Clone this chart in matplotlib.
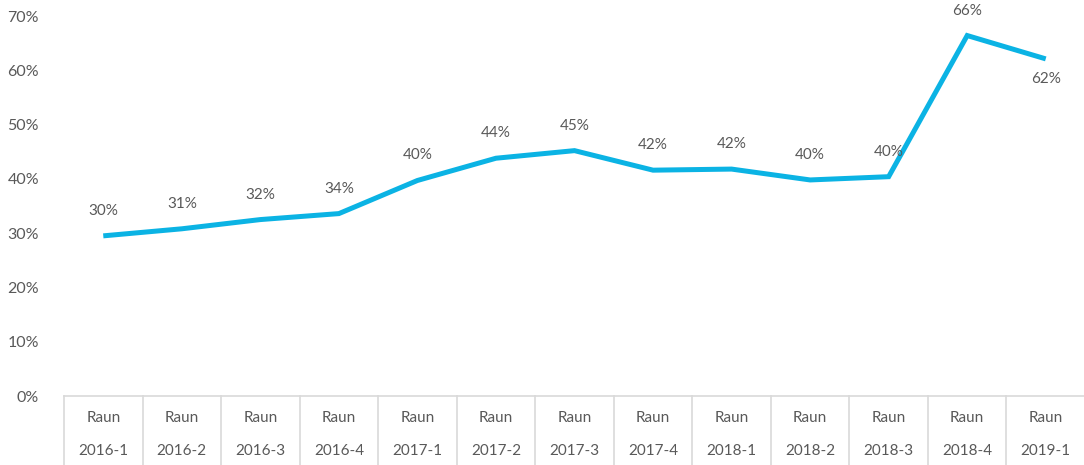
import matplotlib.pyplot as plt
import matplotlib.transforms as mtransforms
from matplotlib.ticker import FuncFormatter

# values (share, in percent)
periods = ["2016-1", "2016-2", "2016-3", "2016-4", "2017-1", "2017-2", "2017-3",
           "2017-4", "2018-1", "2018-2", "2018-3", "2018-4", "2019-1"]
prefix = "Raun"
share = [29.5, 30.8, 32.5, 33.6, 39.7, 43.8, 45.2, 41.6, 41.8, 39.8, 40.4, 66.4, 62.1]
share_labels = ["30%", "31%", "32%", "34%", "40%", "44%", "45%", "42%", "42%",
                "40%", "40%", "66%", "62%"]
y_ticks = [0, 10, 20, 30, 40, 50, 60, 70]

LINE_COLOR = "#0BB3E4"
TEXT_COLOR = "#595959"
GRID_COLOR = "#D9D9D9"

plt.rcParams["font.family"] = ["Lato", "DejaVu Sans"]

fig = plt.figure(figsize=(10.84, 4.65), dpi=100)
ax = fig.add_axes([64 / 1084, 69 / 465, 1021 / 1084, 380 / 465])

x = list(range(len(periods)))
ax.plot(x, share, color=LINE_COLOR, linewidth=3.6, solid_joinstyle="miter",
        solid_capstyle="butt", zorder=3)

# data labels: above the point, except the last one which sits below
for i, (val, lab) in enumerate(zip(share, share_labels)):
    below = i == len(share) - 1
    ax.annotate(lab, (i, val), xytext=(0, -20 if below else 25),
                textcoords="offset pixels", ha="center", va="center",
                fontsize=11, color=TEXT_COLOR)

ax.set_xlim(-0.5, len(periods) - 0.5)
ax.set_ylim(0, 70)
ax.set_yticks(y_ticks)
ax.yaxis.set_major_formatter(FuncFormatter(lambda v, _: f"{v:.0f}%"))
ax.tick_params(axis="y", length=0, pad=18, labelsize=11.5, labelcolor=TEXT_COLOR)
ax.set_xticks([])

for side in ["top", "right", "left"]:
    ax.spines[side].set_visible(False)
ax.spines["bottom"].set_color(GRID_COLOR)
ax.spines["bottom"].set_linewidth(1.2)

# category boxes under the axis
trans = mtransforms.blended_transform_factory(ax.transData, ax.transAxes)
bottom = -69 / 380
for i in range(len(periods) + 1):
    ax.plot([i - 0.5, i - 0.5], [0, bottom], transform=trans, color=GRID_COLOR,
            linewidth=1.2, clip_on=False)
for i, p in enumerate(periods):
    ax.text(i, -22 / 380, prefix, transform=trans, ha="center", va="center",
            fontsize=11, color=TEXT_COLOR)
    ax.text(i, -55 / 380, p, transform=trans, ha="center", va="center",
            fontsize=11, color=TEXT_COLOR)

fig.savefig("out.png", dpi=100)
